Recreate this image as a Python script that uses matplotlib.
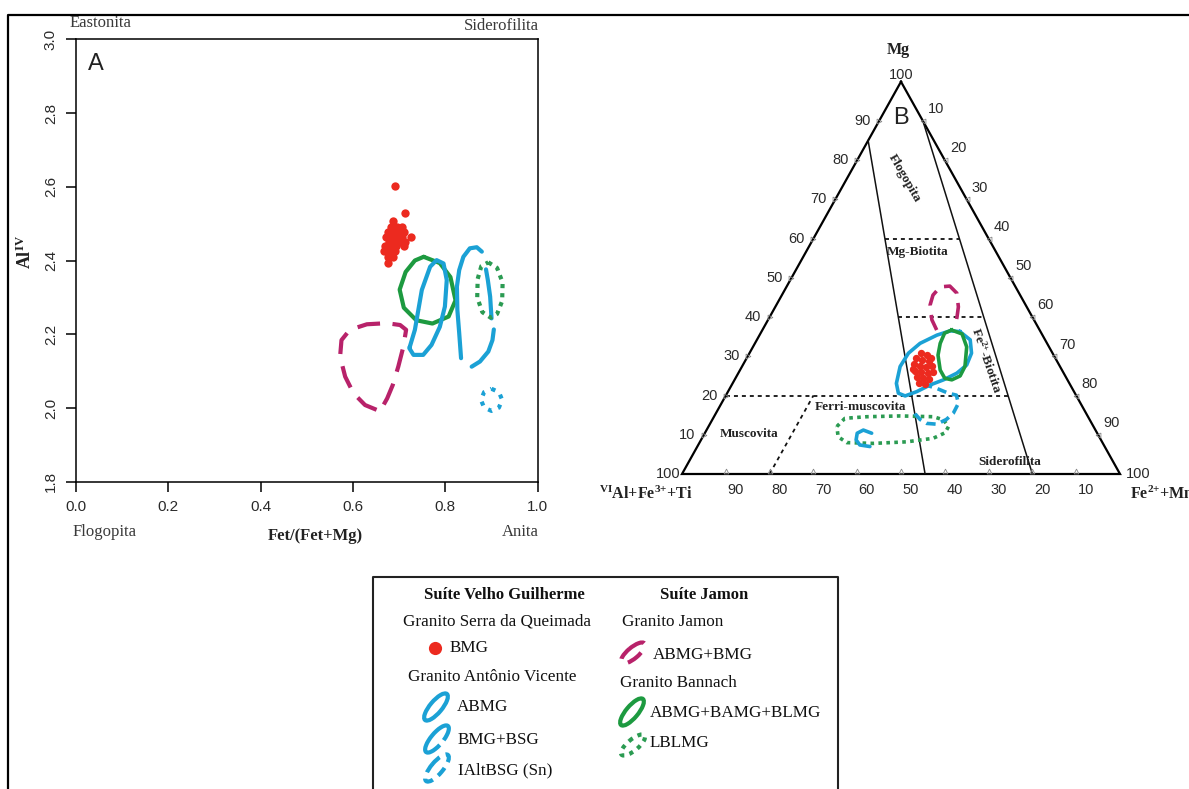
import numpy as np
import matplotlib
matplotlib.use("Agg")
import matplotlib.pyplot as plt
from matplotlib.patches import Ellipse, Arc

plt.rcParams['mathtext.fontset'] = 'custom'
plt.rcParams['mathtext.rm'] = 'Liberation Serif'
plt.rcParams['mathtext.bf'] = 'Liberation Serif:bold'
plt.rcParams['mathtext.default'] = 'regular'

W, H = 1189, 789
SERIF = 'Liberation Serif'
SANS = 'Liberation Sans'

RED = '#ec2a1f'
BLUE = '#1ba1d5'
GREEN = '#1d9a40'
GREEN_DOT = '#2b9b52'
MAGENTA = '#b8226a'
nan = np.nan

# ---------------- Painel A: Fet/(Fet+Mg) x Al IV ----------------
bmg_a_x = [0.690, 0.713, 0.687, 0.683, 0.695, 0.707, 0.676, 0.687, 0.699, 0.710,
           0.672, 0.683, 0.695, 0.707, 0.726, 0.678, 0.690, 0.701, 0.713, 0.670,
           0.682, 0.693, 0.710, 0.668, 0.680, 0.691, 0.676, 0.687, 0.676]
bmg_a_y = [2.603, 2.528, 2.506, 2.490, 2.490, 2.490, 2.477, 2.477, 2.477, 2.477,
           2.464, 2.464, 2.464, 2.464, 2.464, 2.451, 2.451, 2.451, 2.451, 2.439,
           2.439, 2.439, 2.439, 2.425, 2.425, 2.425, 2.410, 2.410, 2.393]

jamon_a_x = [0.651, 0.626, 0.601, 0.583, 0.572, 0.575, 0.593, 0.630, 0.673, 0.702,
             0.715, 0.709, 0.698, 0.686, 0.674, 0.662, 0.651]
jamon_a_y = [1.995, 2.008, 2.040, 2.085, 2.139, 2.184, 2.212, 2.227, 2.230, 2.225,
             2.212, 2.166, 2.112, 2.062, 2.026, 1.999, 1.995]

bannach_a_x = [0.753, 0.788, 0.811, 0.822, 0.807, 0.772, 0.737, 0.710, 0.701, 0.714, 0.734, 0.753]
bannach_a_y = [2.410, 2.393, 2.355, 2.292, 2.248, 2.229, 2.238, 2.272, 2.321, 2.369, 2.400, 2.410]

abmg_a_x = [0.723, 0.734, 0.749, 0.767, 0.781, 0.796, 0.803, 0.799, 0.788, 0.770, 0.752, 0.731, 0.722, 0.723]
abmg_a_y = [2.166, 2.212, 2.320, 2.383, 2.401, 2.392, 2.347, 2.275, 2.220, 2.171, 2.144, 2.144, 2.162, 2.166]

# BMG+BSG: contorno aberto (NaN separa os trechos)
bsg_a_x = [0.879, 0.868, 0.853, 0.839, 0.830, 0.825, 0.826, 0.830, 0.834, nan,
           0.857, 0.875, 0.893, 0.902, 0.905, nan,
           0.900, 0.897, 0.892, 0.888]
bsg_a_y = [2.424, 2.436, 2.433, 2.410, 2.374, 2.329, 2.266, 2.203, 2.135, nan,
           2.112, 2.126, 2.153, 2.184, 2.213, nan,
           2.243, 2.302, 2.347, 2.376]

lblmg_a_x = [0.893, 0.912, 0.924, 0.923, 0.912, 0.898, 0.880, 0.869, 0.870, 0.878, 0.893]
lblmg_a_y = [2.395, 2.380, 2.340, 2.290, 2.255, 2.245, 2.260, 2.300, 2.350, 2.385, 2.395]

ialt_a_x = [0.900, 0.916, 0.923, 0.916, 0.900, 0.884, 0.877, 0.884, 0.900]
ialt_a_y = [2.052, 2.043, 2.022, 2.001, 1.992, 2.001, 2.022, 2.043, 2.052]

# ---------------- Painel B: ternário Mg / (VIAl+Fe3++Ti) / (Fe2++Mn) ----------------
bmg_b_mg = [30.8, 30.3, 29.5, 29.0, 28.8, 28.0, 27.5, 27.3, 27.5, 26.2,
            26.0, 25.7, 26.0, 24.7, 24.5, 24.2, 23.2, 22.9, 26.7, 29.5]
bmg_b_fe = [39.2, 40.8, 38.7, 40.3, 42.0, 39.0, 40.6, 42.1, 43.3, 40.1,
            41.6, 43.3, 44.3, 41.3, 42.8, 44.3, 42.5, 44.0, 39.3, 42.0]

abmg_b_mg = [36.3, 34.2, 30.8, 27.8, 25.7, 24.0, 22.7, 21.0, 19.9, 20.6, 23.1, 27.4, 30.8, 33.3, 35.4, 36.5, 36.3]
abmg_b_fe = [45.3, 48.7, 50.7, 51.1, 49.9, 47.7, 45.3, 43.1, 41.0, 39.1, 37.4, 36.1, 36.3, 37.7, 40.5, 43.0, 45.3]

bannach_b_mg = [36.7, 35.7, 32.4, 27.4, 25.0, 24.0, 24.4, 26.5, 30.3, 33.3, 35.9, 36.7]
bannach_b_fe = [43.2, 46.1, 48.8, 50.9, 51.0, 49.6, 47.8, 45.7, 43.3, 42.3, 42.0, 43.2]

jamon_b_mg = [36.7, 39.3, 43.1, 45.6, 47.7, 47.9, 46.1, 42.6, 40.1, 37.5]
jamon_b_fe = [39.8, 37.4, 35.1, 34.5, 35.1, 37.2, 39.7, 41.8, 42.75, 43.6]

ialt_b_mg = [22.9, 21.8, 20.6, 20.1, 18.0, 15.5, 13.9, 12.7, 12.9, 13.9, 15.3, 16.7]
ialt_b_fe = [43.6, 47.3, 50.5, 52.6, 54.1, 54.2, 53.4, 51.8, 49.4, 47.4, 45.6, 44.4]

lblmg_b_mg = [12.1, 14.2, 14.6, 14.8, 14.6, 13.8, 12.1, 10.5, 9.1, 8.2, 7.8, 8.0, 9.5, 12.1]
lblmg_b_fe = [29.3, 30.1, 34.9, 42.4, 50.1, 52.8, 54.8, 54.8, 52.8, 47.2, 39.8, 33.6, 30.9, 29.3]

bsg_b_mg = [10.4, 11.2, 10.4, 8.7, 7.4, 7.0]
bsg_b_fe = [38.1, 35.8, 34.8, 35.4, 36.9, 39.4]

# limites dos campos (Mg, Fe) -> (Mg, Fe)
solid_fields = [((85, 0), (0, 55.5)), ((90, 10), (0, 80))]
dashed_fields = [((60, 16.3), (60, 33.3)), ((40, 29.4), (40, 48.9)),
                 ((20, 0), (20, 64.4)), ((0, 20), (20, 20))]
edge_ticks = [10, 20, 30, 40, 50, 60, 70, 80, 90]


def tern(mg, fe):
    mg = np.asarray(mg, float) / 100
    fe = np.asarray(fe, float) / 100
    return fe + mg / 2, mg


fig = plt.figure(figsize=(W / 100, H / 100), dpi=100)

# ---- A ----
axA = fig.add_axes([76 / W, 1 - 481.7 / H, 461.7 / W, 442.4 / H])
axA.set_xlim(0, 1)
axA.set_ylim(1.8, 3.0)
axA.set_xticks([0, 0.2, 0.4, 0.6, 0.8, 1.0])
axA.set_xticklabels(['0.0', '0.2', '0.4', '0.6', '0.8', '1.0'])
axA.set_yticks([1.8, 2.0, 2.2, 2.4, 2.6, 2.8, 3.0])
axA.set_yticklabels(['1.8', '2.0', '2.2', '2.4', '2.6', '2.8', '3.0'], rotation=90, va='center')
axA.tick_params(direction='out', length=7, width=1.1, labelsize=11, labelcolor='#2a2a2a', pad=6)
for t in axA.get_xticklabels() + axA.get_yticklabels():
    t.set_fontfamily(SANS)
for s in axA.spines.values():
    s.set_linewidth(1.1)

axA.plot(jamon_a_x, jamon_a_y, color=MAGENTA, lw=3, ls=(0, (5.5, 3)))
axA.plot(bannach_a_x, bannach_a_y, color=GREEN, lw=3, solid_capstyle='round', solid_joinstyle='round')
axA.plot(abmg_a_x, abmg_a_y, color=BLUE, lw=3, solid_capstyle='round', solid_joinstyle='round')
axA.plot(bsg_a_x, bsg_a_y, color=BLUE, lw=3, solid_capstyle='round', solid_joinstyle='round')
axA.plot(lblmg_a_x, lblmg_a_y, color=GREEN_DOT, lw=3, ls=(0, (1, 1.2)))
axA.plot(ialt_a_x, ialt_a_y, color=BLUE, lw=3, ls=(0, (1, 1.6)))
axA.scatter(bmg_a_x, bmg_a_y, s=36, color=RED, lw=0, zorder=5)

# ---- B ----
axB = fig.add_axes([682 / W, 1 - 474 / H, 438 / W, 392.3 / H])
axB.set_xlim(0, 1)
axB.set_ylim(0, 1)
axB.axis('off')

tx, ty = tern([100, 0, 0, 100], [0, 0, 100, 0])
axB.plot(tx, ty, color='k', lw=1.6, clip_on=False, solid_joinstyle='miter')
for p, q in solid_fields:
    x, y = tern([p[0], q[0]], [p[1], q[1]])
    axB.plot(x, y, color='#111', lw=1.1)
for p, q in dashed_fields:
    x, y = tern([p[0], q[0]], [p[1], q[1]])
    axB.plot(x, y, color='#111', lw=1.3, ls=(0, (2.2, 2.2)))

tick_kw = dict(fontsize=10.5, fontfamily=SANS, color='#2a2a2a', textcoords='offset points')
for v in edge_ticks:
    x, y = tern(v, 0)
    axB.plot(x, y, marker='>', ms=3.5, mfc='none', mec='#888', mew=0.6, clip_on=False)
    axB.annotate(str(v), (x, y), xytext=(-6, 0), ha='right', va='center', **tick_kw)
    x, y = tern(100 - v, v)
    axB.plot(x, y, marker='<', ms=3.5, mfc='none', mec='#888', mew=0.6, clip_on=False)
    axB.annotate(str(v), (x, y), xytext=(9.5, 8.5), ha='center', va='center', **tick_kw)
    x, y = tern(0, 100 - v)
    axB.plot(x, y + 0.008, marker='^', ms=3.5, mfc='none', mec='#888', mew=0.6, clip_on=False)
    axB.annotate(str(v), (x, y), xytext=(7, -11.5), ha='center', va='center', **tick_kw)
axB.annotate('100', tern(100, 0), xytext=(0, 0), ha='center', va='bottom', **tick_kw)
axB.annotate('100', tern(0, 0), xytext=(-1, 0), ha='right', va='center', **tick_kw)
axB.annotate('100', tern(0, 100), xytext=(4, 0), ha='left', va='center', **tick_kw)

x, y = tern(jamon_b_mg, jamon_b_fe)
axB.plot(x, y, color=MAGENTA, lw=2.6, ls=(0, (4.5, 2.6)))
x, y = tern(lblmg_b_mg, lblmg_b_fe)
axB.plot(x, y, color=GREEN_DOT, lw=2.6, ls=(0, (1, 1.2)))
x, y = tern(ialt_b_mg, ialt_b_fe)
axB.plot(x, y, color=BLUE, lw=2.6, ls=(0, (2.6, 1.6)))
x, y = tern(bsg_b_mg, bsg_b_fe)
axB.plot(x, y, color=BLUE, lw=2.6, solid_capstyle='round')
x, y = tern(abmg_b_mg, abmg_b_fe)
axB.plot(x, y, color=BLUE, lw=2.6, solid_joinstyle='round')
x, y = tern(bannach_b_mg, bannach_b_fe)
axB.plot(x, y, color=GREEN, lw=2.6, solid_joinstyle='round')
x, y = tern(bmg_b_mg, bmg_b_fe)
axB.scatter(x, y, s=28, color=RED, lw=0, zorder=5)

# ---- textos, moldura e legenda (coordenadas em pixels) ----
ov = fig.add_axes([0, 0, 1, 1])
ov.set_xlim(0, W)
ov.set_ylim(H, 0)
ov.axis('off')

ov.plot([8, 8, W + 5], [H + 5, 15, 15], color='k', lw=1.6, clip_on=False)

lab = dict(fontfamily=SERIF, fontsize=12, color='#3a3a3a', va='center')
ov.text(70, 23, 'Eastonita', ha='left', **lab)
ov.text(539, 25.7, 'Siderofilita', ha='right', **lab)
ov.text(73, 532, 'Flogopita', ha='left', **lab)
ov.text(538.6, 532, 'Anita', ha='right', **lab)
ov.text(315.7, 535.7, 'Fet/(Fet+Mg)', ha='center', va='center', fontfamily=SERIF,
        fontsize=12, fontweight='bold', color='#222')
ov.text(25, 252, 'Al$^{IV}$', ha='center', va='center', rotation=90, fontfamily=SERIF,
        fontsize=13, fontweight='bold', color='#222')
ov.text(95.7, 64.3, 'A', ha='center', va='center', fontfamily=SANS, fontsize=17, color='#222')

ov.text(898, 50, 'Mg', ha='center', va='center', fontfamily=SERIF, fontsize=11.5, fontweight='bold', color='#222')
ov.text(901, 118, 'B', ha='center', va='center', fontfamily=SANS, fontsize=17, color='#222')
ov.text(693, 494, '$^{VI}$Al+Fe$^{3{+}}$+Ti', ha='right', va='center', fontfamily=SERIF,
        fontsize=11.5, fontweight='bold', color='#222')
ov.text(1130, 494, 'Fe$^{2{+}}$+Mn', ha='left', va='center', fontfamily=SERIF,
        fontsize=11.5, fontweight='bold', color='#222')

fld = dict(fontfamily=SERIF, fontsize=9.5, fontweight='bold', color='#222', ha='center', va='center')
ov.text(904, 178, 'Flogopita', rotation=-60, **fld)
ov.text(918, 252, 'Mg-Biotita', **fld)
ov.text(987, 360, 'Fe$^{2{+}}$-Biotita', rotation=-71, **fld)
ov.text(860, 407, 'Ferri-muscovita', **fld)
ov.text(749, 434, 'Muscovita', **fld)
ov.text(1010, 462, 'Siderofilita', **fld)

# legenda
ov.plot([373, 373, 838, 838], [H + 5, 577, 577, H + 5], color='#222', lw=1.5, clip_on=False)
hd = dict(fontfamily=SERIF, fontsize=12, fontweight='bold', color='#111', ha='center', va='center')
tx_kw = dict(fontfamily=SERIF, fontsize=12.3, color='#111', ha='left', va='center')
ov.text(504, 595, 'Suíte Velho Guilherme', **hd)
ov.text(704, 595, 'Suíte Jamon', **hd)
ov.text(403, 622, 'Granito Serra da Queimada', **tx_kw)
ov.plot(435, 648, 'o', ms=9.5, color=RED, mew=0)
ov.text(450, 648, 'BMG', **tx_kw)
ov.text(408, 677, 'Granito Antônio Vicente', **tx_kw)
ov.add_patch(Ellipse((436, 707), 34, 12, angle=-50, fill=False, ec=BLUE, lw=3))
ov.text(457, 707, 'ABMG', **tx_kw)
ov.add_patch(Arc((437, 739), 34, 12, angle=-50, theta1=115, theta2=420, ec=BLUE, lw=3))
ov.text(458, 740, 'BMG+BSG', **tx_kw)
ov.add_patch(Ellipse((437, 768), 34, 12, angle=-50, fill=False, ec=BLUE, lw=3, ls=(0, (2.4, 1.6))))
ov.text(458, 770, 'IAltBSG (Sn)', **tx_kw)

ov.text(622, 622, 'Granito Jamon', **tx_kw)
ov.add_patch(Ellipse((633, 653), 30, 11, angle=-40, fill=False, ec=MAGENTA, lw=3, ls=(0, (4, 2.6))))
ov.text(653, 655, 'ABMG+BMG', **tx_kw)
ov.text(620, 683, 'Granito Bannach', **tx_kw)
ov.add_patch(Ellipse((632, 712), 34, 12, angle=-50, fill=False, ec=GREEN, lw=3))
ov.text(650, 713, 'ABMG+BAMG+BLMG', **tx_kw)
ov.add_patch(Ellipse((633, 745), 30, 11, angle=-40, fill=False, ec=GREEN_DOT, lw=3, ls=(0, (1, 1.3))))
ov.text(650, 743, 'LBLMG', **tx_kw)

fig.savefig('out.png', dpi=100)
